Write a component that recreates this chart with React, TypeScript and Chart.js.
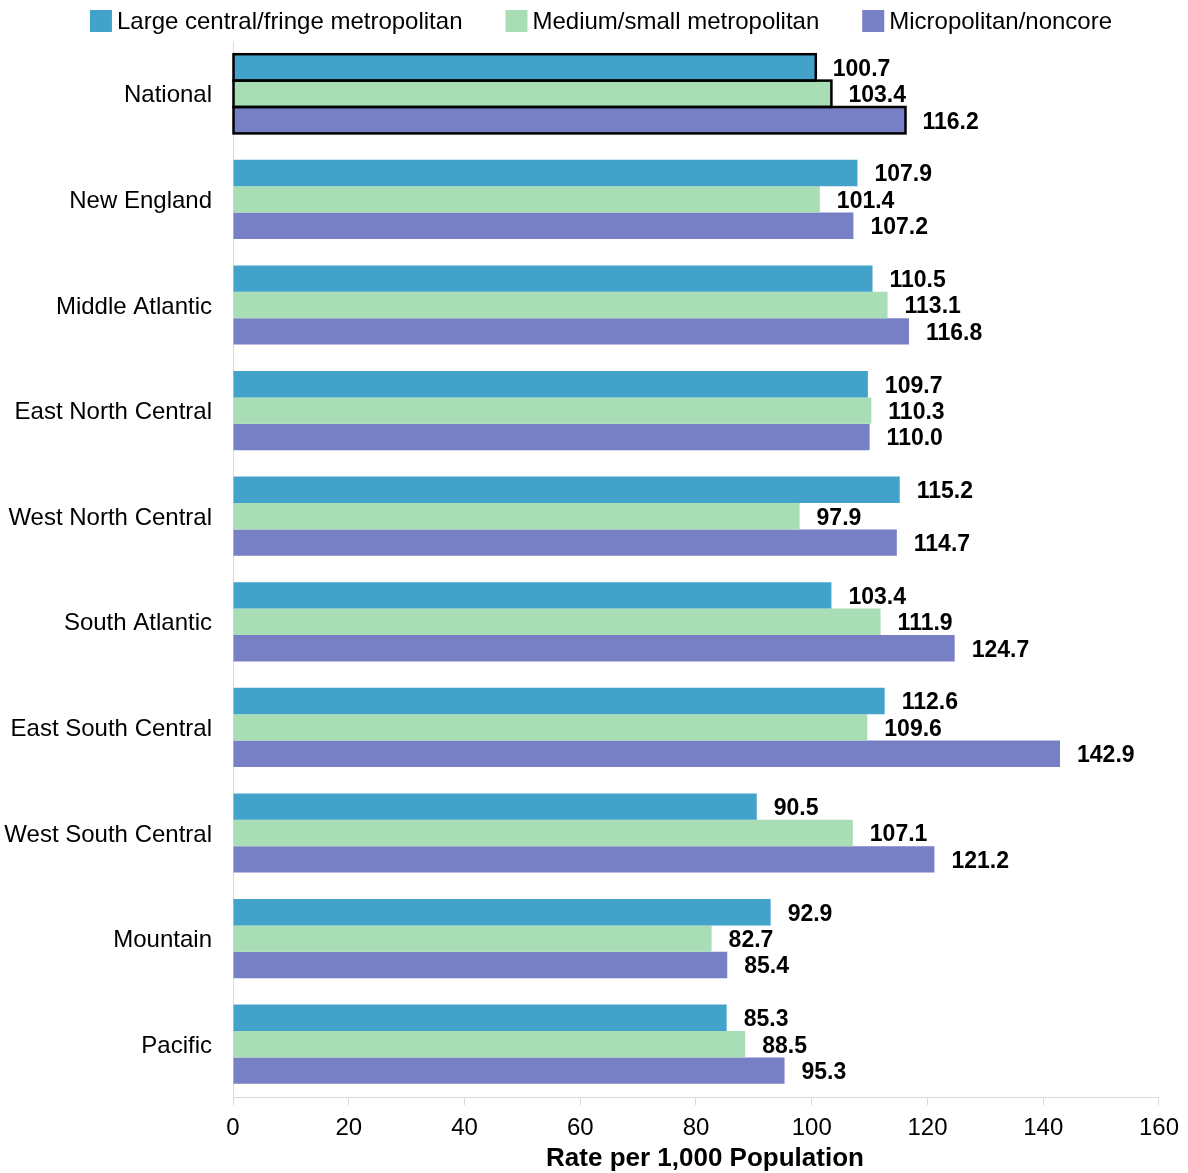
import React, { useEffect, useRef } from "react";
import { Chart, registerables } from "chart.js";

Chart.register(...registerables);

const categories = [
  "National",
  "New England",
  "Middle Atlantic",
  "East North Central",
  "West North Central",
  "South Atlantic",
  "East South Central",
  "West South Central",
  "Mountain",
  "Pacific",
];
const largeMetro = [100.7, 107.9, 110.5, 109.7, 115.2, 103.4, 112.6, 90.5, 92.9, 85.3];
const mediumSmallMetro = [103.4, 101.4, 113.1, 110.3, 97.9, 111.9, 109.6, 107.1, 82.7, 88.5];
const micropolitanNoncore = [116.2, 107.2, 116.8, 110.0, 114.7, 124.7, 142.9, 121.2, 85.4, 95.3];
const seriesNames = [
  "Large central/fringe metropolitan",
  "Medium/small metropolitan",
  "Micropolitan/noncore",
];
const seriesColors = ["#42A2CA", "#A8DDB5", "#777FC5"];
const xTicks = [0, 20, 40, 60, 80, 100, 120, 140, 160];
const axisTitle = "Rate per 1,000 Population";
const outlinedCategory = "National";

const FONT = "'Liberation Sans', Arial, sans-serif";

const valueLabels = {
  id: "valueLabels",
  afterDatasetsDraw(chart: any) {
    const ctx = chart.ctx;
    ctx.save();
    // outline for National bars
    const oi = categories.indexOf(outlinedCategory);
    ctx.strokeStyle = "#000";
    ctx.lineWidth = 2.5;
    chart.data.datasets.forEach((_ds: any, di: number) => {
      const bar = chart.getDatasetMeta(di).data[oi];
      if (!bar) return;
      const left = Math.min(bar.base, bar.x);
      const w = Math.abs(bar.x - bar.base);
      ctx.strokeRect(left, bar.y - bar.height / 2, w, bar.height);
    });
    ctx.font = `bold 23px ${FONT}`;
    ctx.fillStyle = "#000";
    ctx.textAlign = "left";
    ctx.textBaseline = "middle";
    chart.data.datasets.forEach((ds: any, di: number) => {
      const meta = chart.getDatasetMeta(di);
      meta.data.forEach((bar: any, i: number) => {
        const v = ds.data[i];
        ctx.fillText(v.toFixed(1), bar.x + 17, bar.y + 2);
      });
    });
    ctx.restore();
  },
};

const topLegend = {
  id: "topLegend",
  afterDraw(chart: any) {
    const ctx = chart.ctx;
    ctx.save();
    ctx.font = `24px ${FONT}`;
    const box = 22;
    const gap = 5;
    const spacing = 43;
    const widths = seriesNames.map((n) => ctx.measureText(n).width);
    const total = widths.reduce((a, w) => a + box + gap + w, 0) + spacing * (seriesNames.length - 1);
    let x = (chart.width - total) / 2 + 7;
    const yc = 21;
    seriesNames.forEach((n, i) => {
      ctx.fillStyle = seriesColors[i];
      ctx.fillRect(x, yc - box / 2, box, box);
      ctx.fillStyle = "#000";
      ctx.textAlign = "left";
      ctx.textBaseline = "middle";
      ctx.fillText(n, x + box + gap, yc + 1);
      x += box + gap + widths[i] + spacing;
    });
    // x-axis title
    const area = chart.chartArea;
    ctx.font = `bold 26px ${FONT}`;
    ctx.fillStyle = "#000";
    ctx.textAlign = "center";
    ctx.textBaseline = "middle";
    ctx.fillText(axisTitle, (area.left + area.right) / 2 + 9, 1159);
    ctx.restore();
  },
};

export default function App() {
  const ref = useRef<HTMLCanvasElement | null>(null);
  useEffect(() => {
    document.body.style.margin = "0";
    const canvas = ref.current!;
    const mk = (data: number[], i: number) => ({
      label: seriesNames[i],
      data,
      backgroundColor: seriesColors[i],
      borderWidth: 0,
      categoryPercentage: 0.75,
      barPercentage: 1.0,
    });
    const chart = new Chart(canvas, {
      type: "bar",
      data: {
        labels: categories,
        datasets: [mk(largeMetro, 0), mk(mediumSmallMetro, 1), mk(micropolitanNoncore, 2)],
      },
      options: {
        indexAxis: "y",
        responsive: false,
        animation: false,
        layout: { padding: { top: 41, left: 0, right: 29, bottom: 0 } },
        plugins: {
          legend: { display: false },
          tooltip: { enabled: false },
        },
        scales: {
          x: {
            min: 0,
            max: 160,
            afterBuildTicks: (s: any) => {
              s.ticks = xTicks.map((v) => ({ value: v }));
            },
            afterFit: (s: any) => {
              s.height = 76;
            },
            grid: {
              drawOnChartArea: false,
              drawTicks: true,
              tickLength: 8,
              color: "#d9d9d9",
            },
            border: { display: true, color: "#d9d9d9", width: 1 },
            ticks: {
              color: "#000",
              font: { family: FONT, size: 24 },
              padding: 9,
              maxRotation: 0,
            },
            title: { display: false },
          },
          y: {
            afterFit: (s: any) => {
              s.width = 233;
            },
            grid: { display: false, drawTicks: false },
            border: { display: true, color: "#d9d9d9", width: 1 },
            ticks: {
              color: "#000",
              font: { family: FONT, size: 24 },
              padding: 21,
              labelOffset: 2,
            },
          },
        },
      },
      plugins: [valueLabels, topLegend],
    } as any);
    return () => chart.destroy();
  }, []);
  return <canvas ref={ref} width={1188} height={1173} style={{ display: "block" }} />;
}
